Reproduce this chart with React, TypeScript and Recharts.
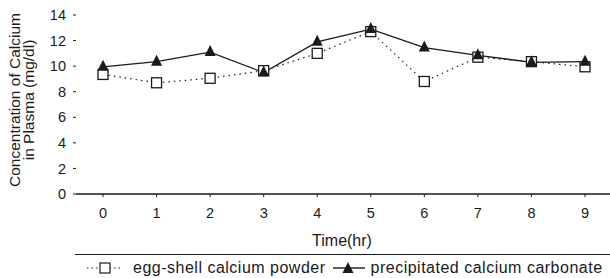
import { LineChart, Line, XAxis, YAxis, Legend } from 'recharts'

const HOURS = ['0', '1', '2', '3', '4', '5', '6', '7', '8', '9']
const EGG_SHELL = [9.35, 8.7, 9.05, 9.65, 11.0, 12.7, 8.8, 10.7, 10.35, 9.95]
const CARBONATE = [9.95, 10.35, 11.1, 9.5, 11.9, 12.9, 11.45, 10.85, 10.3, 10.35]
const Y_TICKS = [0, 2, 4, 6, 8, 10, 12, 14]

const FONT = '"Liberation Sans", Arial, sans-serif'
const INK = '#1a1a1a'

const data = HOURS.map((h, i) => ({ hour: h, egg: EGG_SHELL[i], carb: CARBONATE[i] }))

function Square(props: any) {
  const { cx, cy } = props
  if (cx == null || cy == null) return null
  return <rect x={cx - 5} y={cy - 5} width={10} height={10} fill="#fff" stroke={INK} strokeWidth={1.3} />
}

function Triangle(props: any) {
  const { cx, cy } = props
  if (cx == null || cy == null) return null
  return <path d={`M${cx},${cy - 7} L${cx + 5.5},${cy + 4} L${cx - 5.5},${cy + 4} Z`} fill={INK} />
}

function YTitle() {
  const cy = 100
  return (
    <text
      transform={`rotate(-90, 22, ${cy})`}
      x={22}
      y={cy}
      textAnchor="middle"
      fontFamily={FONT}
      fontSize={15.5}
      fontWeight="normal"
      fill={INK}
    >
      <tspan x={22} dy={-2}>Concentration of Calcium</tspan>
      <tspan x={22} dy={14}>in Plasma (mg/dl)</tspan>
    </text>
  )
}

function LegendBox() {
  return (
    <div style={{ fontFamily: FONT, fontSize: 16, color: INK, letterSpacing: 0.5 }}>
      <div style={{ marginLeft: 75, borderTop: `1.5px solid ${INK}`, marginTop: 6 }} />
      <div style={{ display: 'flex', alignItems: 'center', marginTop: 5, marginLeft: 86, whiteSpace: 'nowrap', lineHeight: '16px' }}>
        <svg width={38} height={14}>
          <line x1={1} y1={7} x2={37} y2={7} stroke={INK} strokeWidth={1} strokeDasharray="1.5 3" />
          <rect x={14} y={2} width={10} height={10} fill="#fff" stroke={INK} strokeWidth={1.2} />
        </svg>
        <span style={{ marginLeft: 9, marginRight: 6 }}>egg-shell calcium powder</span>
        <svg width={34} height={14}>
          <line x1={1} y1={7} x2={33} y2={7} stroke={INK} strokeWidth={1.4} />
          <path d="M16,1 L21.5,12 L10.5,12 Z" fill={INK} />
        </svg>
        <span style={{ marginLeft: 5 }}>precipitated calcium carbonate</span>
      </div>
    </div>
  )
}

export default function App() {
  return (
    <div style={{ position: 'absolute', left: 0, top: 0, width: 610, height: 278, overflow: 'hidden', background: '#fff' }}>
      <LineChart width={612} height={278} data={data} margin={{ top: 15, right: 0, bottom: 0, left: 0 }}>
        <XAxis
          dataKey="hour"
          padding={{ left: 27, right: 27 }}
          axisLine={{ stroke: INK, strokeWidth: 1.5 }}
          tickLine={{ stroke: INK }}
          tickSize={3}
          tickMargin={11}
          tick={{ fill: INK, fontSize: 14.5, fontFamily: FONT }}
          height={54}
          label={{ value: 'Time(hr)', position: 'insideBottom', offset: 2, dx: -2, fill: INK, fontSize: 16, fontFamily: FONT }}
        />
        <YAxis
          domain={[0, 14]}
          ticks={Y_TICKS}
          axisLine={false}
          tickLine={{ stroke: INK }}
          tickSize={3}
          tickMargin={7}
          tick={{ fill: INK, fontSize: 14.5, fontFamily: FONT }}
          width={76}
          label={<YTitle />}
        />
        <Legend verticalAlign="bottom" height={30} content={<LegendBox />} />
        <Line
          dataKey="egg"
          stroke={INK}
          strokeWidth={1.2}
          strokeDasharray="1.5 4"
          dot={<Square />}
          isAnimationActive={false}
        />
        <Line
          dataKey="carb"
          stroke={INK}
          strokeWidth={1.3}
          dot={<Triangle />}
          isAnimationActive={false}
        />
      </LineChart>
    </div>
  )
}
